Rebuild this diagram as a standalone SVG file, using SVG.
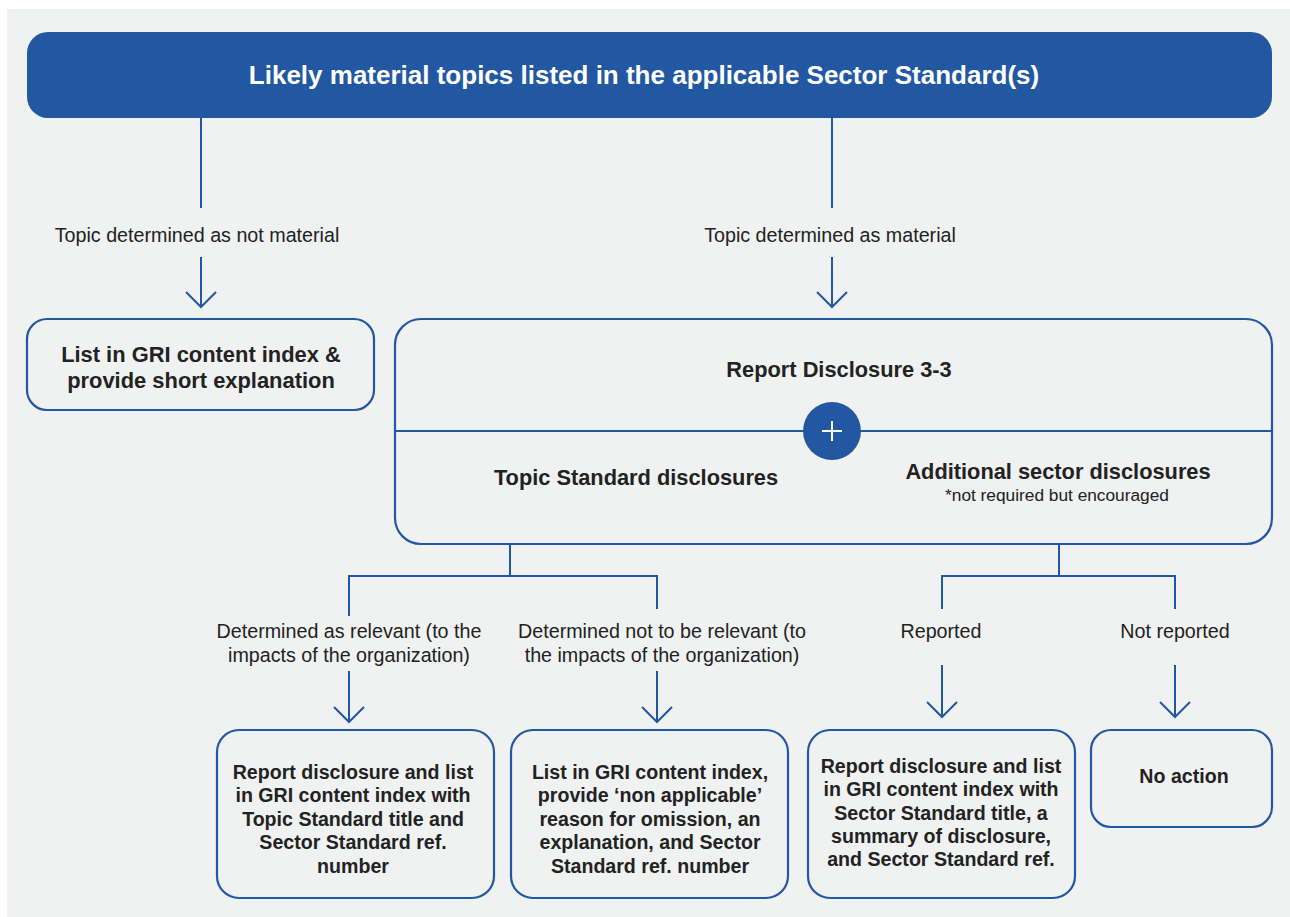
<svg xmlns="http://www.w3.org/2000/svg" width="1290" height="917" viewBox="0 0 1290 917">
<defs>
<style>
.bg{fill:#f0f1f1}
.box{fill:#f0f1f1;stroke:#2257a1;stroke-width:2.2}
.ln{fill:none;stroke:#2257a1;stroke-width:2}
.t{font-family:"Liberation Sans",Arial,sans-serif;fill:#222;text-anchor:middle}
.b{font-weight:bold}
.lab{font-size:19.7px}
.bx{font-size:19.6px;font-weight:bold}
</style>
</defs>
<rect class="bg" x="7" y="9" width="1283" height="908"/>

<g id="connectors">
<line class="ln" x1="201" y1="118" x2="201" y2="208"/>
<line class="ln" x1="201" y1="257" x2="201" y2="307"/>
<line class="ln" x1="832" y1="118" x2="832" y2="208"/>
<line class="ln" x1="832" y1="257" x2="832" y2="307"/>
<line class="ln" x1="833" y1="460" x2="833" y2="544"/>
<path class="ln" d="M510,544 V576 M349,616 V576 H657 V609"/>
<line class="ln" x1="349" y1="671" x2="349" y2="722"/>
<line class="ln" x1="657" y1="671" x2="657" y2="722"/>
<path class="ln" d="M1059,544 V576 M942,609 V576 H1175 V609"/>
<line class="ln" x1="942" y1="665" x2="942" y2="717"/>
<line class="ln" x1="1175" y1="665" x2="1175" y2="717"/>
<g class="ln">
<path d="M186,292 L201,307 L216,292"/>
<path d="M817,292 L832,307 L847,292"/>
<path d="M334,707 L349,722 L364,707"/>
<path d="M642,707 L657,722 L672,707"/>
<path d="M927,702 L942,717 L957,702"/>
<path d="M1160,702 L1175,717 L1190,702"/>
</g>
<text class="t lab" x="197" y="242">Topic determined as not material</text>
<text class="t lab" x="830" y="242">Topic determined as material</text>
<text class="t lab" x="349" y="638">Determined as relevant (to the</text>
<text class="t lab" x="349" y="662">impacts of the organization)</text>
<text class="t lab" x="662" y="638">Determined not to be relevant (to</text>
<text class="t lab" x="662" y="662">the impacts of the organization)</text>
<text class="t lab" x="941" y="638">Reported</text>
<text class="t lab" x="1175" y="638">Not reported</text>
</g>

<g id="top">
<rect x="27" y="32" width="1245" height="86" rx="21" fill="#2257a1"/>
<text class="t b" x="644" y="84" font-size="26" style="fill:#fff">Likely material topics listed in the applicable Sector Standard(s)</text>
</g>

<g id="not-material">
<rect class="box" x="27" y="319" width="347" height="91" rx="20"/>
<text class="t b" x="201" y="362" font-size="21.9">List in GRI content index &amp;</text>
<text class="t b" x="201" y="388" font-size="21.9">provide short explanation</text>
</g>

<g id="material">
<rect class="box" x="395" y="319" width="877" height="225" rx="26"/>
<line class="ln" x1="395" y1="431" x2="1272" y2="431"/>
<text class="t b" x="839" y="377" font-size="21.8">Report Disclosure 3-3</text>
<text class="t b" x="636" y="485" font-size="21.8">Topic Standard disclosures</text>
<text class="t b" x="1058" y="479" font-size="21.8">Additional sector disclosures</text>
<text class="t" x="1057" y="501" font-size="17.3">*not required but encouraged</text>
<circle cx="832" cy="431" r="29" fill="#2257a1"/>
<path d="M832,421 V441 M822,431 H842" stroke="#fff" stroke-width="2" fill="none"/>
</g>

<g id="relevant">
<rect class="box" x="217" y="730" width="277" height="168" rx="22"/>
<text class="t bx" x="353" y="779">Report disclosure and list</text>
<text class="t bx" x="353" y="802">in GRI content index with</text>
<text class="t bx" x="353" y="826">Topic Standard title and</text>
<text class="t bx" x="353" y="849">Sector Standard ref.</text>
<text class="t bx" x="353" y="873">number</text>
</g>

<g id="not-relevant">
<rect class="box" x="511" y="730" width="277" height="168" rx="22"/>
<text class="t bx" x="650" y="779">List in GRI content index,</text>
<text class="t bx" x="650" y="802">provide ‘non applicable’</text>
<text class="t bx" x="650" y="826">reason for omission, an</text>
<text class="t bx" x="650" y="849">explanation, and Sector</text>
<text class="t bx" x="650" y="873">Standard ref. number</text>
</g>

<g id="reported">
<rect class="box" x="808" y="730" width="267" height="168" rx="22"/>
<text class="t bx" x="941" y="773">Report disclosure and list</text>
<text class="t bx" x="941" y="796">in GRI content index with</text>
<text class="t bx" x="941" y="820">Sector Standard title, a</text>
<text class="t bx" x="941" y="843">summary of disclosure,</text>
<text class="t bx" x="941" y="866">and Sector Standard ref.</text>
</g>

<g id="no-action">
<rect class="box" x="1091" y="730" width="181" height="97" rx="20"/>
<text class="t bx" x="1184" y="783">No action</text>
</g>
</svg>
